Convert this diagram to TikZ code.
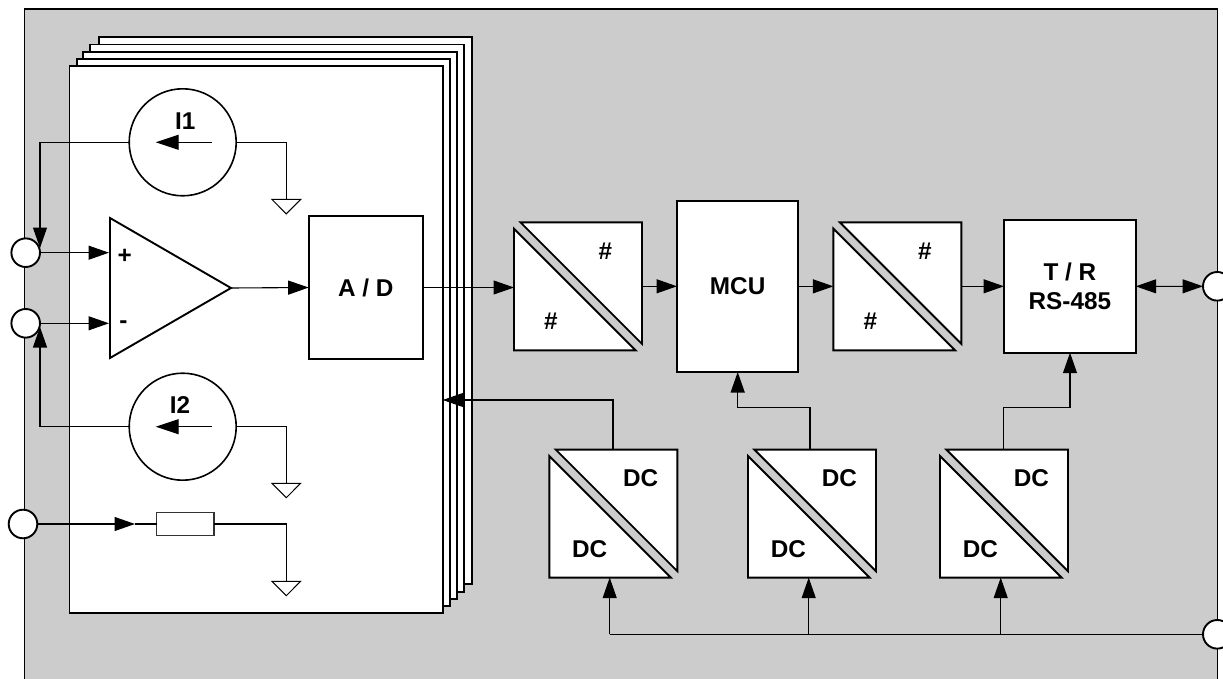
\documentclass[tikz,border=0pt]{standalone}
\usepackage{fontspec}
\setmainfont{Liberation Sans}
\usetikzlibrary{arrows.meta}
\definecolor{panelgray}{HTML}{CCCCCC}
\tikzset{
  every node/.style={inner sep=0pt,outer sep=0pt},
  heavy/.style={draw=black,line width=1.9pt,fill=white,line join=miter},
  blockbox/.style={heavy,rectangle,font=\labelfont,align=center},
  port/.style={heavy,circle,minimum size=28.6pt},
  source/.style={draw=black,line width=1.6pt,fill=white,circle,minimum size=107pt},
  wire/.style={draw=black,line width=1.1pt},
  arrowed/.style={wire,-{Triangle[length=20.5pt,width=14pt]}},
  label/.style={font=\labelfont},
  groundsym/.style={draw=black,line width=1pt,fill=white},
}
\newcommand{\labelfont}{\fontsize{24.3}{29.3}\selectfont\bfseries}
% #1 name, #2 left, #3 top, #4 upper label, #5 lower label, #6 dx lower label
\newcommand{\splitbox}[6]{%
  \node[minimum size=128pt] (#1) at (#2+64,#3+64) {};
  \draw[heavy] (#2,#3+6.4) -- (#2,#3+128) -- (#2+121.6,#3+128) -- cycle;
  \draw[heavy] (#2+6.4,#3) -- (#2+128,#3) -- (#2+128,#3+121.6) -- cycle;
  \node[label] (#1u) at (#2+91.4,#3+29) {#4};
  \node[label] (#1l) at (#2+#6,#3+99.4) {#5};
}
\newcommand{\groundat}[3]{% name, x, top y
  \coordinate (#1) at (#2,#3);
  \draw[groundsym] (#2-14.3,#3) -- (#2+14.3,#3) -- (#2,#3+14.4) -- cycle;
}
\begin{document}
\begin{tikzpicture}[x=1pt,y=-1pt]
\path[use as bounding box] (0,0) rectangle (1223,679);
\clip (0,0) rectangle (1223,679);
\fill[white] (0,0) rectangle (1223,679);
% panel
\draw[fill=panelgray,draw=black,line width=1.1pt] (24.3,9) rectangle (1217.3,700);
% stacked pages
\draw[heavy] (98.7,36.7) rectangle (471.7,584.3);
\draw[heavy] (90,44.5) rectangle (464,591.7);
\draw[heavy] (83.3,51.7) rectangle (457.3,599.3);
\draw[heavy] (76.7,58.7) rectangle (450,606);
\node[heavy,rectangle,minimum width=373.2pt,minimum height=547pt] (page) at (256.1,339.5) {};
% ports
\node[port] (p1) at (25.7,252.7) {};
\node[port] (p2) at (25.7,323.3) {};
\node[port] (p3) at (23,524) {};
\node[port] (p4) at (1217.3,286.3) {};
\node[port] (p5) at (1217.3,634.3) {};
% current sources
\node[source] (i1) at (182.7,142.3) {};
\node[source] (i2) at (182.7,426.7) {};
\node[label] (i1t) at (185.3,121) {I1};
\node[label] (i2t) at (180,405) {I2};
\coordinate (i1a) at (212,142.3);
\coordinate (i1b) at (155.7,142.3);
\coordinate (i2a) at (212,426.7);
\coordinate (i2b) at (155.7,426.7);
\draw[wire,-{Triangle[length=23pt,width=15pt]}] (i1a) -- (i1b);
\draw[wire,-{Triangle[length=23pt,width=15pt]}] (i2a) -- (i2b);
% amplifier
\draw[heavy] (110,218) -- (231,288) coordinate (ampout) -- (110,358) -- cycle;
\coordinate (ampplus) at (109,252.7);
\coordinate (ampminus) at (109,323.3);
\node[label] (plus) at (124.7,256) {+};
\node[label] (minus) at (123.3,325) {-};
% grounds
\groundat{g1}{286.3}{199.5}
\groundat{g2}{286.3}{483.3}
\groundat{g3}{286.3}{581.3}
% resistor
\node[draw=black!80,line width=1.2pt,fill=white,rectangle,minimum width=57.3pt,minimum height=22.6pt] (res) at (185.3,524) {};
% blocks
\node[blockbox,minimum width=114pt,minimum height=143.6pt] (ad) at (365.7,287.5) {A / D};
\node[blockbox,minimum width=121.3pt,minimum height=170.7pt] (mcu) at (737.65,286.35) {MCU};
\node[blockbox,minimum width=131.7pt,minimum height=132.7pt] (tr) at (1069.85,286.35) {T / R\\RS-485};
% converters
\splitbox{cv1}{514}{222.3}{\#}{\#}{37}
\splitbox{cv2}{833.4}{222.3}{\#}{\#}{37}
\splitbox{dc1}{549.3}{449.6}{DC}{DC}{40.4}
\splitbox{dc2}{748}{449.6}{DC}{DC}{40.4}
\splitbox{dc3}{940}{449.6}{DC}{DC}{40.4}
% signal path
\coordinate (i1tip) at (40,248);
\coordinate (i2tip) at (40,327);
\draw[arrowed] (i1.west) -| (i1tip);
\draw[arrowed] (i2.west) -| (i2tip);
\draw[wire] (i1.east) -| (g1);
\draw[arrowed] (p1.east) -- (ampplus);
\draw[arrowed] (p2.east) -- (ampminus);
\coordinate (restip) at (135,524);
\draw[arrowed] (p3.east) -- (restip);
\draw[wire] (restip) -- (res.west);
\draw[arrowed] (ampout) -- (ad.west);
\draw[arrowed] (ad.east) -- (ad.east -| cv1.west);
\draw[arrowed] (cv1.east) -- (cv1.east -| mcu.west);
\draw[arrowed] (mcu.east) -- (mcu.east -| cv2.west);
\draw[arrowed] (cv2.east) -- (cv2.east -| tr.west);
\draw[wire,{Triangle[length=20.5pt,width=14pt]}-{Triangle[length=20.5pt,width=14pt]}] (tr.east) -- (p4.west);
% supply path
\coordinate (dc1up) at (613,449.6);
\coordinate (dc1turn) at (613,400);
\draw[arrowed] (dc1up) -- (dc1turn) -- (dc1turn -| page.east);
\coordinate (dc2up) at (810,449.6);
\coordinate (dc2turn) at (810,407.3);
\coordinate (mcuin) at (737.7,372);
\draw[arrowed] (dc2up) -- (dc2turn) -- (dc2turn -| mcuin) -- (mcuin);
\coordinate (dc3up) at (1003.3,449.6);
\coordinate (dc3turn) at (1003.3,407.3);
\coordinate (trin) at (1070,352.7);
\draw[arrowed] (dc3up) -- (dc3turn) -- (dc3turn -| trin) -- (trin);
\coordinate (b1) at (609.7,634.3);
\coordinate (b2) at (808.7,634.3);
\coordinate (b3) at (1000.7,634.3);
\draw[wire] (b1) -- (p5.west);
\draw[arrowed] (b1) -- (b1 |- dc1.south);
\draw[arrowed] (b2) -- (b2 |- dc2.south);
\draw[arrowed] (b3) -- (b3 |- dc3.south);
% ground leads
\draw[wire] (i2.east) -| (g2);
\draw[wire] (res.east) -| (g3);
\end{tikzpicture}
\end{document}
